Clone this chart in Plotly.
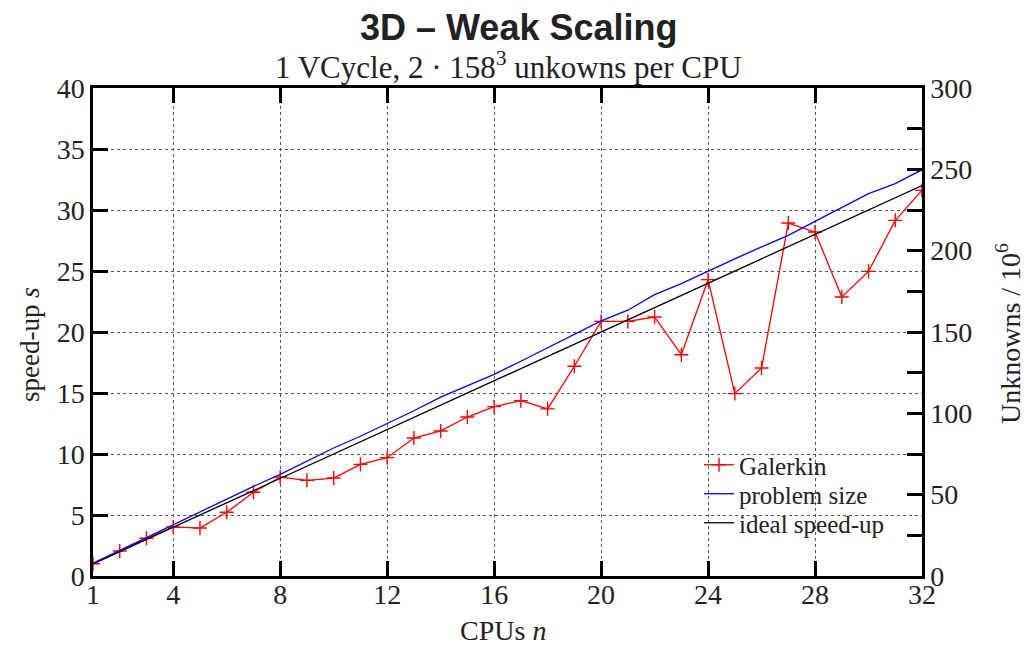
import plotly.graph_objects as go

cpus = list(range(1, 33))
galerkin = [1.0, 2.05, 3.09, 4.02, 3.93, 5.22, 6.86, 8.11, 7.84, 8.03,
            9.15, 9.70, 11.31, 11.89, 13.03, 13.88, 14.37, 13.70, 17.19, 20.87,
            20.87, 21.23, 18.14, 24.29, 14.95, 17.05, 28.93, 28.20, 22.87, 24.97,
            29.15, 31.61]
problem_size = [7.9, 15.8, 23.6, 31.1, 39.0, 47.0, 55.1, 62.5, 70.5, 78.7,
                85.9, 93.7, 101.6, 110.0, 117.0, 124.0, 132.0, 140.2, 148.5, 156.8,
                163.4, 173.0, 179.7, 187.5, 195.0, 202.3, 209.4, 218.0, 226.4, 235.1,
                241.2, 249.8]
ideal = [1, 2, 3, 4, 5, 6, 7, 8, 9, 10, 11, 12, 13, 14, 15, 16,
         17, 18, 19, 20, 21, 22, 23, 24, 25, 26, 27, 28, 29, 30, 31, 32]

x_ticks = [1, 4, 8, 12, 16, 20, 24, 28, 32]
y_ticks = [0, 5, 10, 15, 20, 25, 30, 35, 40]
y2_ticks = [0, 50, 100, 150, 200, 250, 300]
y2_minor_ticks = [25, 75, 125, 175, 225, 275]

SERIF = "Liberation Serif"
SANS = "Liberation Sans"
TXT = "#222"

W, H = 1027, 646
L, T = 93, 88
R = W - 922
B = H - 576
PW, PH = W - L - R, H - T - B


def px(xp):
    return (xp - L) / PW


def py(yp):
    return (H - B - yp) / PH


fig = go.Figure()
fig.add_trace(go.Scatter(
    x=cpus, y=galerkin, name="Galerkin", mode="lines+markers",
    line=dict(color="red", width=1.3),
    marker=dict(symbol="cross-thin", size=10, line=dict(color="red", width=1.4)),
    yaxis="y", legend="legend"))
fig.add_trace(go.Scatter(
    x=cpus, y=problem_size, name="problem size", mode="lines",
    line=dict(color="blue", width=1.3), yaxis="y2", legend="legend2"))
fig.add_trace(go.Scatter(
    x=cpus, y=ideal, name="ideal speed-up", mode="lines",
    line=dict(color="black", width=1.3), yaxis="y", legend="legend3"))

axis_common = dict(
    showline=True, linecolor="black", linewidth=2.5,
    ticks="inside", ticklen=15, tickwidth=2.5, tickcolor="black",
    tickfont=dict(family=SERIF, size=28, color=TXT),
    zeroline=False, automargin=False,
)


def leg(ycenter):
    return dict(
        x=px(699), y=py(ycenter), xanchor="left", yanchor="middle",
        bgcolor="rgba(0,0,0,0)", borderwidth=0,
        font=dict(family=SERIF, size=25, color=TXT),
        itemwidth=30,
    )


fig.update_layout(
    width=W, height=H,
    paper_bgcolor="white", plot_bgcolor="white",
    margin=dict(l=L, r=R, t=T, b=B, autoexpand=False),
    showlegend=True,
    legend=leg(465), legend2=leg(494), legend3=leg(523),
    xaxis=dict(
        range=[1, 32], tickmode="array", tickvals=x_ticks,
        mirror="ticks", ticklabelstandoff=-8,
        showgrid=True, gridcolor="#555", griddash="dot", gridwidth=1.2,
        **axis_common,
    ),
    yaxis=dict(
        range=[0, 40], tickmode="array", tickvals=y_ticks,
        showgrid=True, gridcolor="#555", griddash="dot", gridwidth=1.2,
        **axis_common,
    ),
    yaxis2=dict(
        range=[0, 300], overlaying="y", side="right",
        tickmode="array", tickvals=y2_ticks,
        minor=dict(tickmode="array", tickvals=y2_minor_ticks, ticks="inside",
                   ticklen=15, tickwidth=2.5, tickcolor="black", showgrid=False),
        showgrid=False,
        **axis_common,
    ),
    annotations=[
        dict(text="<b>3D – Weak Scaling</b>", x=px(518), y=py(27),
             font=dict(family=SANS, size=36, color=TXT)),
        dict(text="1 VCycle, 2 · 158<sup>3</sup> unkowns per CPU", x=px(508), y=py(66),
             font=dict(family=SERIF, size=31, color=TXT)),
        dict(text="CPUs <i>n</i>", x=px(503), y=py(630),
             font=dict(family=SERIF, size=28, color=TXT)),
        dict(text="speed-up <i>s</i>", x=px(30), y=py(345), textangle=-90,
             font=dict(family=SERIF, size=27, color=TXT)),
        dict(text="Unknowns / 10<sup>6</sup>", x=px(1008), y=py(334), textangle=-90,
             font=dict(family=SERIF, size=28, color=TXT)),
    ],
)
fig.update_annotations(xref="paper", yref="paper", showarrow=False,
                       xanchor="center", yanchor="middle")

fig.write_html(
    "out.html",
    config={"displayModeBar": False},
    post_script="document.body.style.margin='0';document.body.style.overflow='hidden';",
)
